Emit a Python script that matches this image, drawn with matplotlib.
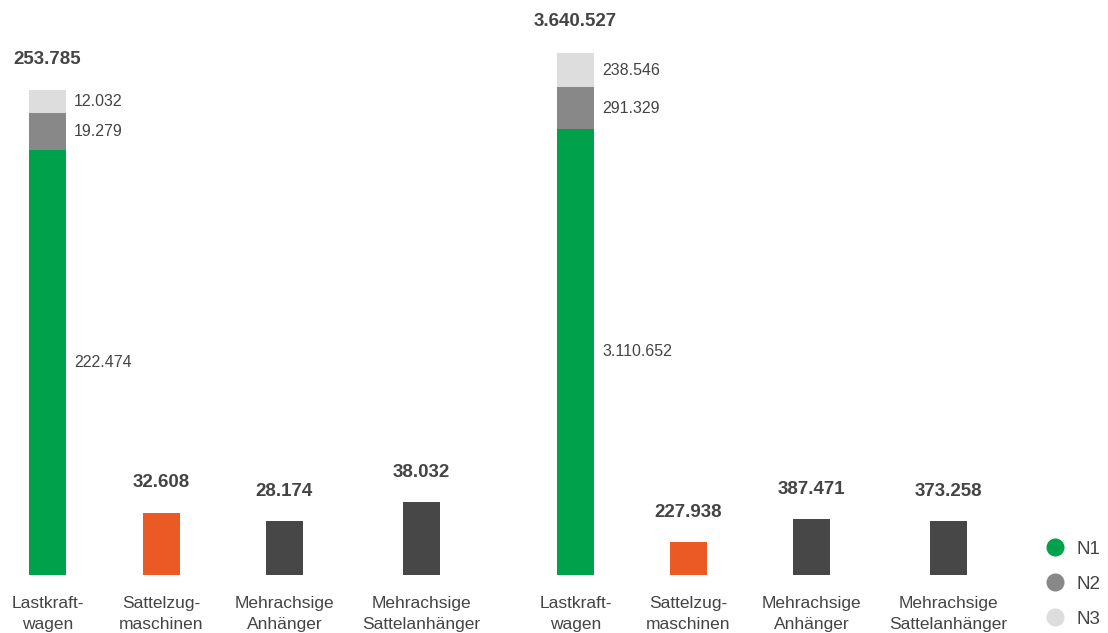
import matplotlib
matplotlib.use("Agg")
import matplotlib.pyplot as plt
from matplotlib.lines import Line2D

plt.rcParams["font.family"] = ["Liberation Sans", "DejaVu Sans"]

CATEGORIES = ["Lastkraft-\nwagen", "Sattelzug-\nmaschinen", "Mehrachsige\nAnhänger", "Mehrachsige\nSattelanhänger"]

# left group
LKW_LEFT = [222474, 19279, 12032]          # N1, N2, N3
OTHERS_LEFT = [32608, 28174, 38032]
TOTAL_LEFT = 253785

# right group
LKW_RIGHT = [3110652, 291329, 238546]
OTHERS_RIGHT = [227938, 387471, 373258]
TOTAL_RIGHT = 3640527

SERIES = ["N1", "N2", "N3"]
SEG_COLORS = ["#00a14b", "#888888", "#dddddd"]
OTHER_COLORS = ["#eb5a24", "#474747", "#474747"]
TEXT = "#444444"

W, H = 1108, 633
BASE = 575          # pixel row of the bar baseline
BAR_W = 37

# bar centres in pixels (layout)
X_LEFT = [47.5, 161.5, 284.5, 421.5]
X_RIGHT = [575.5, 688.5, 811.5, 948.5]


def fmt(v):
    return f"{v:,}".replace(",", ".")


def draw_group(fig, xs, lkw, others, total, top_px):
    height = BASE - top_px
    ax = fig.add_axes([0, (H - BASE) / H, 1, height / H])
    ax.set_xlim(0, W)
    ax.set_ylim(0, total)
    ax.axis("off")

    bottom = 0
    for val, col in zip(lkw, SEG_COLORS):
        ax.bar(xs[0], val, bottom=bottom, width=BAR_W, color=col, linewidth=0)
        ax.text(xs[0] + BAR_W / 2 + 8, bottom + val / 2, fmt(val),
                ha="left", va="center", fontsize=11.5, color=TEXT)
        bottom += val
    ax.annotate(fmt(total), (xs[0], total), xytext=(0, 31), textcoords="offset pixels",
                ha="center", va="center", fontsize=13.5, fontweight="bold", color=TEXT,
                annotation_clip=False)

    for x, val, col in zip(xs[1:], others, OTHER_COLORS):
        ax.bar(x, val, width=BAR_W, color=col, linewidth=0)
        ax.annotate(fmt(val), (x, val), xytext=(0, 30), textcoords="offset pixels",
                    ha="center", va="center", fontsize=13.5, fontweight="bold", color=TEXT,
                    annotation_clip=False)

    for x, lab in zip(xs, CATEGORIES):
        fig.text(x / W, 1 - 614 / H, lab, ha="center", va="center",
                 fontsize=12.5, color=TEXT, linespacing=1.5)


fig = plt.figure(figsize=(W / 100, H / 100), dpi=100)
draw_group(fig, X_LEFT, LKW_LEFT, OTHERS_LEFT, TOTAL_LEFT, 90)
draw_group(fig, X_RIGHT, LKW_RIGHT, OTHERS_RIGHT, TOTAL_RIGHT, 53)

handles = [Line2D([], [], marker="o", linestyle="", markersize=12,
                  markerfacecolor=c, markeredgecolor=c) for c in SEG_COLORS]
fig.legend(handles, SERIES, loc="center left", bbox_to_anchor=(1032 / W, 1 - 584 / H),
           frameon=False, fontsize=13.5, labelcolor=TEXT, handletextpad=0.35,
           labelspacing=0.95, borderpad=0, handlelength=1.5)

fig.savefig("out.png", dpi=100)
